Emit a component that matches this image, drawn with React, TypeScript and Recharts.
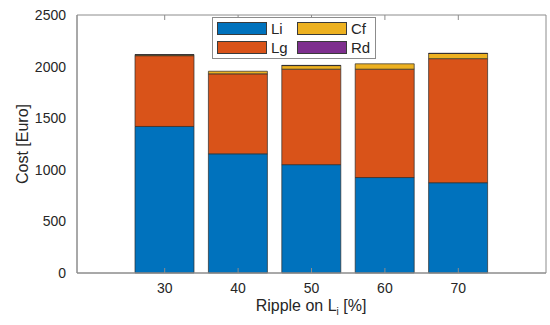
import React from 'react';
import { BarChart, Bar, XAxis, YAxis } from 'recharts';

const ripple = ['30', '40', '50', '60', '70'];
const li = [1420, 1155, 1050, 925, 875];
const lg = [686, 775, 925, 1050, 1202];
const cf = [8, 25, 35, 52, 50];
const rd = [3, 0, 2, 0, 2];
const yTicks = [0, 500, 1000, 1500, 2000, 2500];

const series = [
  { key: 'Li', values: li, color: '#0072BD' },
  { key: 'Lg', values: lg, color: '#D95319' },
  { key: 'Cf', values: cf, color: '#EDB120' },
  { key: 'Rd', values: rd, color: '#7E2F8E' },
];

const data = ripple.map((r, i) => ({ ripple: r, Li: li[i], Lg: lg[i], Cf: cf[i], Rd: rd[i] }));

const font = 'Liberation Sans, Arial, sans-serif';
const textColor = '#262626';
const axisColor = '#8c8c8c';
const noLabel = () => <g />;

// legend laid out in two columns like matlab's NumColumns = 2
const LegendBox = () => {
  const order = [series[0], series[2], series[1], series[3]];
  return (
    <div style={{ position: 'absolute', left: 212, top: 17, width: 164, height: 42, border: `1px solid ${axisColor}`, background: '#fff', boxSizing: 'border-box' }}>
      {order.map((s, i) => {
        const col = i % 2;
        const row = Math.floor(i / 2);
        return (
          <div key={s.key} style={{ position: 'absolute', left: 4 + col * 80, top: 4 + row * 19, display: 'flex', alignItems: 'center' }}>
            <div style={{ width: 50, height: 13, background: s.color, border: '1px solid #3a3a3a', boxSizing: 'border-box' }} />
            <span style={{ marginLeft: 4, fontFamily: font, fontSize: 15, color: textColor, lineHeight: '13px' }}>{s.key}</span>
          </div>
        );
      })}
    </div>
  );
};

const App = () => {
  return (
    <div style={{ position: 'absolute', left: 0, top: 0, width: 550, height: 325, background: '#fff' }}>
      <BarChart
        width={550}
        height={325}
        data={data}
        margin={{ top: 15, right: 4, bottom: 22, left: 0 }}
        barCategoryGap={7}
      >
        <XAxis
          dataKey="ripple"
          xAxisId="bottom"
          orientation="bottom"
          height={30}
          padding={{ left: 51, right: 51 }}
          stroke={axisColor}
          tickLine={false}
          tickMargin={4}
          tick={{ fill: textColor, fontSize: 14, fontFamily: font }}
        />
        <YAxis
          yAxisId="left"
          width={77}
          domain={[0, 2500]}
          ticks={yTicks}
          stroke={axisColor}
          tickLine={false}
          tickMargin={5}
          tick={{ fill: textColor, fontSize: 14, fontFamily: font }}
        />
        {series.map((s) => (
          <Bar
            key={s.key}
            dataKey={s.key}
            stackId="cost"
            xAxisId="bottom"
            yAxisId="left"
            fill={s.color}
            stroke="#2b2b2b"
            strokeWidth={0.7}
            isAnimationActive={false}
          />
        ))}
        {/* inward ticks and the box, drawn over the bars */}
        <XAxis dataKey="ripple" xAxisId="bottomIn" orientation="bottom" mirror height={30}
          padding={{ left: 51, right: 51 }} stroke={axisColor} tickSize={5} tick={noLabel} />
        <XAxis dataKey="ripple" xAxisId="topIn" orientation="top" mirror height={30}
          padding={{ left: 51, right: 51 }} stroke={axisColor} tickSize={5} tick={noLabel} />
        <YAxis yAxisId="leftIn" orientation="left" mirror width={40} domain={[0, 2500]}
          ticks={yTicks} stroke={axisColor} tickSize={5} tick={noLabel} />
        <YAxis yAxisId="rightIn" orientation="right" mirror width={40} domain={[0, 2500]}
          ticks={yTicks} stroke={axisColor} tickSize={5} tick={noLabel} />
        <text x={311} y={311} textAnchor="middle" fontFamily={font} fontSize={16} fill={textColor}>
          Ripple on L<tspan dy={4} fontSize={10}>i</tspan>
          <tspan dy={-4}> [%]</tspan>
        </text>
        <text x={28} y={144} transform="rotate(-90 28 144)" textAnchor="middle" fontFamily={font} fontSize={16} fill={textColor}>
          Cost [Euro]
        </text>
      </BarChart>
      <LegendBox />
    </div>
  );
};

export default App;
